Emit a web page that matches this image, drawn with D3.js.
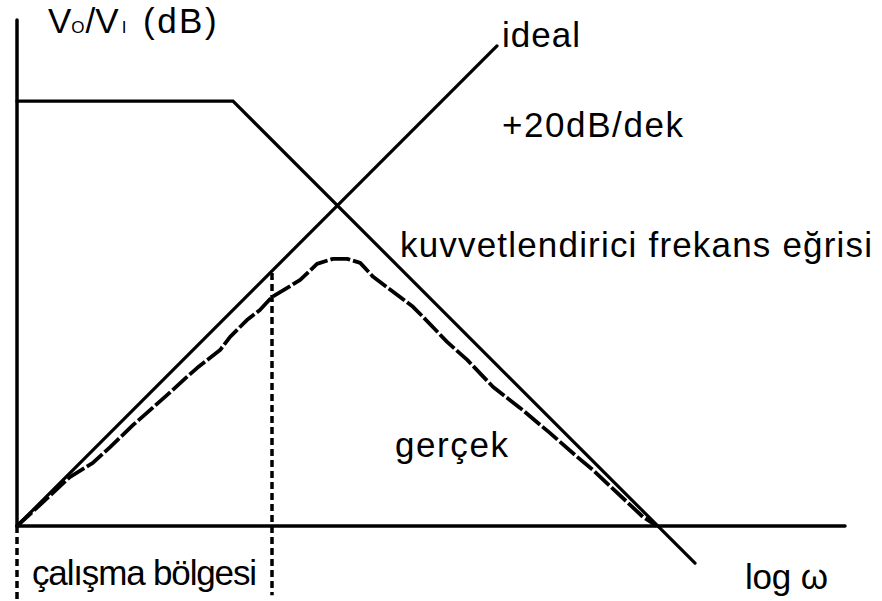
<!DOCTYPE html>
<html>
<head>
<meta charset="utf-8">
<script src="https://cdn.jsdelivr.net/npm/d3@7"></script>
<style>
  html, body { margin: 0; padding: 0; background: #fff; }
  svg { display: block; }
  text { font-family: "Liberation Sans", Arial, Helvetica, sans-serif; fill: #000; }
</style>
</head>
<body>
<svg id="chart" width="882" height="601"></svg>
<script>
// Frequency position in decades (log ω), gain in dB.
const axisMaxDecade = 17.25;
const axisMaxDb = 210.8;

// Amplifier frequency response: flat band, then roll-off.
const ampDecade = [0, 4.5, 14.125];
const ampDb = [177, 177, -15.5];

// Ideal +20 dB/decade line.
const idealDecade = [0, 10];
const idealDb = [0, 200];

// Measured (real) response.
const realDecade = [0, 0.48, 1.1, 1.58, 1.94, 2.42, 3.13, 3.54, 3.75, 4.23, 4.44, 4.79, 5.06, 5.31,
  5.63, 5.9, 6.25, 6.58, 6.88, 7.15, 7.42, 7.98, 8.25, 8.46, 8.96, 9.38, 9.92, 10.48, 11.1, 11.67,
  12.0, 13.04, 13.33];
const realDb = [0, 8.8, 20.4, 26.3, 32.9, 42.1, 54.6, 62.1, 65.8, 73.3, 78.8, 85.8, 90, 95.4,
  99.2, 102.5, 109.2, 111.3, 111.3, 109.6, 103.8, 95.4, 91.3, 87.1, 76.7, 69.2, 57.9, 49.2, 38.8, 28.8,
  23.3, 3.8, 0];

// Working region boundaries (decade) and the extent of their marker lines (dB).
const regionDecade = [0, 5.3125];
const regionTopDb = [0, 105.4];
const regionBottomDb = [-31, -28.8];

const svg = d3.select("#chart");
const x = d3.scaleLinear().domain([0, axisMaxDecade]).range([17, 845]);
const y = d3.scaleLinear().domain([0, axisMaxDb]).range([526, 20]);

const line = d3.line().x(d => x(d[0])).y(d => y(d[1]));
const zip = (a, b) => a.map((v, i) => [v, b[i]]);

// Axes
svg.append("line")
  .attr("x1", x(0)).attr("x2", x(0))
  .attr("y1", y(axisMaxDb)).attr("y2", y(0))
  .attr("stroke", "#000").attr("stroke-width", 3.5).attr("stroke-linecap", "round");
svg.append("line")
  .attr("x1", x(0)).attr("x2", x(axisMaxDecade))
  .attr("y1", y(0)).attr("y2", y(0))
  .attr("stroke", "#000").attr("stroke-width", 3.5).attr("stroke-linecap", "round");

// Working region markers
regionDecade.forEach((d, i) => {
  svg.append("line")
    .attr("x1", x(d)).attr("x2", x(d))
    .attr("y1", y(regionTopDb[i])).attr("y2", y(regionBottomDb[i]))
    .attr("stroke", "#000").attr("stroke-width", 3.5)
    .attr("stroke-dasharray", "7,4");
});

// Amplifier curve
svg.append("path")
  .attr("d", line(zip(ampDecade, ampDb)))
  .attr("fill", "none").attr("stroke", "#000").attr("stroke-width", 3.2)
  .attr("stroke-linecap", "round").attr("stroke-linejoin", "miter");

// Ideal line
svg.append("path")
  .attr("d", line(zip(idealDecade, idealDb)))
  .attr("fill", "none").attr("stroke", "#000").attr("stroke-width", 3.2)
  .attr("stroke-linecap", "round");

// Real curve
svg.append("path")
  .attr("d", line(zip(realDecade, realDb)))
  .attr("fill", "none").attr("stroke", "#000").attr("stroke-width", 3.8)
  .attr("stroke-linejoin", "round")
  .attr("stroke-dasharray", "20,3");

// Labels
const yLabel = svg.append("text").attr("x", 48).attr("y", 33).attr("font-size", 35);
yLabel.append("tspan").text("V");
yLabel.append("tspan").attr("font-size", 17).text("O");
yLabel.append("tspan").attr("dx", 1).text("/V");
yLabel.append("tspan").attr("font-size", 17).attr("dx", 3).text("I");
yLabel.append("tspan").attr("x", 143).attr("letter-spacing", 2.5).text("(dB)");

const labels = [
  { t: "ideal", x: 502, y: 47, w: 78 },
  { t: "+20dB/dek", x: 502, y: 137, w: 181 },
  { t: "kuvvetlendirici frekans eğrisi", x: 400, y: 257, w: 472 },
  { t: "gerçek", x: 395, y: 457, w: 113 },
  { t: "çalışma bölgesi", x: 32, y: 585, w: 225 },
  { t: "log ω", x: 745, y: 589, w: 83 }
];
svg.selectAll("text.lbl").data(labels).enter().append("text")
  .attr("class", "lbl")
  .attr("x", d => d.x).attr("y", d => d.y)
  .attr("font-size", 35)
  .attr("textLength", d => d.w)
  .attr("lengthAdjust", "spacing")
  .text(d => d.t);
</script>
</body>
</html>
